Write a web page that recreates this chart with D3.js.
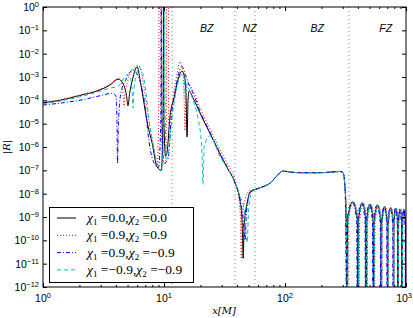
<!DOCTYPE html>
<html><head><meta charset="utf-8">
<script src="https://cdn.jsdelivr.net/npm/d3@7"></script>
<style>body{margin:0;background:#fff}</style>
</head><body><svg id="c" width="413" height="318"></svg>
<script>
// ---------- data ----------
const seriesLabels = [
  ["0.0", "0.0"], ["0.9", "0.9"], ["0.9", "\u22120.9"], ["\u22120.9", "\u22120.9"]
];
const zoneLineX = [11.7, 38.6, 56.5, 338];
const zoneLabels = ["BZ", "NZ", "BZ", "FZ"];
const zoneLabelX = [22.5, 51, 185, 680];
const xTickExp = [0, 1, 2, 3];
const yTickExp = [0, -1, -2, -3, -4, -5, -6, -7, -8, -9, -10, -11, -12];

const plateau = [[58.7, 1.6e-8], [65.8, 2e-8], [75.1, 2.8e-8], [85.8, 5.8e-8], [96.3, 9.3e-8],
  [110, 8.5e-8], [133, 7.9e-8], [195, 7.9e-8], [286, 8.9e-8], [302, 7.9e-8], [313, 2e-8]];

const blackData = [[1, 7.9e-5], [1.38, 1.0e-4], [2.0, 1.6e-4], [2.96, 2.8e-4], [3.58, 4.5e-4], [4.17, 8.1e-4],
  [4.6, 5.0e-4], [4.9, 1.6e-4], [5.04, 5.8e-5], [5.2, 2.0e-4], [5.5, 8.0e-4], [6.0, 2.75e-3], [6.33, 7.9e-4],
  [6.7, 1.4e-4], [7.37, 7.9e-6], [7.95, 1.6e-6], [8.76, 1.4e-7], [9.5, 1.0e-7], [9.8, 1e-5], [9.87, 1e-2],
  [9.9, 5], [9.93, 1e-2], [10.0, 1e-5], [10.3, 4e-7], [10.6, 6e-7], [11.2, 2e-5], [12.1, 1.26e-4],
  [12.8, 5e-4], [14.1, 1.8e-3], [14.8, 1.0e-3], [15.2, 1.6e-4], [15.5, 2.7e-6], [15.8, 1.0e-4],
  [16.1, 2.5e-4], [17.4, 1.26e-4], [19.8, 2.9e-5], [23.9, 4e-6], [29.0, 5e-7], [33.3, 1.26e-7],
  [38.6, 2.9e-8], [42.4, 5.4e-9], [44.3, 5e-10], [45.1, 1.7e-11], [46, 5e-10], [48.7, 4e-9], [51.5, 1.2e-8]];
const blackFZ = [[320, 1e-9], [325, 1e-13],
  [329.6, 7.9e-10], [363, 4.4e-9], [396.4, 7.9e-10], [401, 1e-13],
  [405, 7.1e-10], [435.5, 4e-9], [466, 7.1e-10], [470, 1e-13],
  [474, 6.3e-10], [505, 3.5e-9], [536, 6.3e-10], [540, 1e-13],
  [545, 5.6e-10], [582.5, 3.2e-9], [620, 5.6e-10], [625, 1e-13],
  [630, 5e-10], [665, 2.8e-9], [700, 5e-10], [705, 1e-13],
  [710, 4.5e-10], [747.5, 2.5e-9], [785, 4.5e-10], [790, 1e-13],
  [794, 4.3e-10], [825, 2.4e-9], [856, 4.3e-10], [860, 1e-13],
  [864, 4e-10], [895, 2.2e-9], [926, 4e-10], [930, 1e-13],
  [934, 3.8e-10], [962, 2.1e-9], [991, 3.8e-10], [995, 1e-13], [1000, 3e-10]];

const redData = [[1, 8.5e-5], [1.38, 1.05e-4], [2.0, 1.7e-4], [2.96, 3.0e-4], [3.58, 5.0e-4], [4.3, 9.0e-4],
  [4.5, 5.0e-4], [4.6, 1.6e-4], [4.67, 5e-5], [4.75, 1.6e-4], [5.0, 6.3e-4], [5.5, 2e-3], [6.1, 3.2e-3],
  [6.5, 1.6e-3], [6.9, 2.5e-4], [7.5, 1.3e-5], [8.2, 1e-6], [8.8, 1.6e-7], [9.02, 1e-5], [9.08, 1e-2],
  [9.1, 5], [9.42, 5], [9.44, 1e-2], [9.5, 1e-5], [9.8, 2e-7], [10.3, 2e-7], [10.44, 1e-5], [10.48, 1e-2],
  [10.5, 5], [10.85, 5], [10.87, 1e-2], [10.95, 1e-5], [11.3, 2e-5], [12.0, 2e-4], [12.8, 1.3e-3],
  [13.5, 4.5e-3], [14.2, 2e-3], [14.6, 2.5e-4], [14.9, 5e-6], [15.2, 2.5e-4], [15.9, 5e-4], [17.4, 2.5e-4],
  [19.8, 5e-5], [23.9, 6.3e-6], [29.0, 7.9e-7], [33.3, 2e-7], [38.6, 4e-8], [41, 1e-8], [42.8, 1e-9],
  [43.6, 1.6e-11], [44.4, 1e-9], [46.5, 5e-9], [51.5, 1.4e-8]];
const redFZ = [[322, 1e-9], [330, 1e-13],
  [335, 7.9e-10], [370, 4.4e-9], [405, 7.9e-10], [410, 1e-13],
  [414, 7.1e-10], [444, 4e-9], [474, 7.1e-10], [478, 1e-13],
  [482, 6.3e-10], [514, 3.5e-9], [546, 6.3e-10], [550, 1e-13],
  [555, 5.6e-10], [591, 3.2e-9], [627, 5.6e-10], [632, 1e-13],
  [637, 5e-10], [673, 2.8e-9], [709, 5e-10], [714, 1e-13],
  [719, 4.5e-10], [755, 2.5e-9], [791, 4.5e-10], [796, 1e-13],
  [800, 4.3e-10], [832, 2.4e-9], [864, 4.3e-10], [868, 1e-13],
  [872, 4e-10], [903, 2.2e-9], [934, 4e-10], [938, 1e-13],
  [942, 3.8e-10], [975, 2.1e-9], [1000, 1.2e-9]];

const blueData = [[1, 6.3e-5], [1.5, 8e-5], [2.2, 1.1e-4], [3.0, 1.6e-4], [3.7, 2e-4], [4.0, 1.6e-4],
  [4.08, 2e-5], [4.13, 2e-7], [4.2, 1e-5], [4.4, 2e-4], [4.8, 7e-4], [5.53, 2e-3], [6.0, 1.3e-3],
  [6.5, 4e-4], [7.0, 5e-5], [7.37, 4e-6], [7.7, 7.9e-7], [8.3, 2e-7], [9.0, 1.3e-7], [9.4, 1e-5],
  [9.47, 1e-2], [9.5, 5], [9.53, 1e-2], [9.6, 1e-5], [10.0, 2e-7], [10.8, 3e-7], [11.5, 2e-5],
  [12.3, 2e-4], [13.0, 1e-3], [14.1, 2.8e-3], [15.0, 1.3e-3], [16, 5e-4], [17.4, 2e-4], [19.8, 3.5e-5],
  [23.9, 4.5e-6], [29, 5.5e-7], [33.3, 1.4e-7], [38.6, 3e-8], [42.4, 6e-9], [45, 1e-9], [46.8, 1e-10],
  [48, 1.5e-9], [51.5, 1.1e-8]];
const blueFZ = [[317, 1e-9], [322, 1e-13],
  [326, 7.9e-10], [358, 4.4e-9], [391, 7.9e-10], [395, 1e-13],
  [399, 7.1e-10], [428, 4e-9], [458, 7.1e-10], [462, 1e-13],
  [466, 6.3e-10], [497, 3.5e-9], [528, 6.3e-10], [532, 1e-13],
  [537, 5.6e-10], [575, 3.2e-9], [613, 5.6e-10], [618, 1e-13],
  [623, 5e-10], [658, 2.8e-9], [693, 5e-10], [698, 1e-13],
  [703, 4.5e-10], [740, 2.5e-9], [777, 4.5e-10], [782, 1e-13],
  [786, 4.3e-10], [817, 2.4e-9], [848, 4.3e-10], [852, 1e-13],
  [856, 4e-10], [887, 2.2e-9], [918, 4e-10], [922, 1e-13],
  [926, 3.8e-10], [955, 2.1e-9], [984, 3.8e-10], [988, 1e-13], [1000, 7e-10]];

const cyanData = [[1, 7e-5], [2.0, 1.4e-4], [3.0, 2.5e-4], [3.7, 3.5e-4], [4.1, 3.7e-4], [4.6, 8e-4],
  [4.9, 1.26e-3], [5.2, 1.1e-3], [5.45, 3e-4], [5.55, 4.7e-5], [5.65, 3e-4], [6.0, 1.6e-3], [6.3, 2.5e-3],
  [6.7, 1.3e-3], [7.1, 2e-4], [7.6, 1e-5], [8.2, 1e-6], [8.8, 2e-7], [9.6, 1e-7], [9.95, 1e-5],
  [10.02, 1e-2], [10.05, 5], [10.14, 5], [10.17, 1e-2], [10.25, 1e-5], [10.5, 3e-7], [11.0, 1e-6],
  [11.8, 3e-5], [12.7, 3e-4], [13.5, 1e-3], [14.4, 1.4e-3], [14.8, 5e-4], [15.0, 1.26e-4], [15.3, 5e-4],
  [16.0, 3.2e-4], [17.4, 1e-4], [19.0, 2e-5], [20.5, 1e-6], [21.0, 2.5e-8], [21.5, 1e-6], [23.9, 3e-6],
  [29, 4e-7], [33.3, 1.2e-7], [38.6, 3.2e-8], [42.4, 8e-9], [46, 2e-9], [48.7, 8e-11], [50, 2e-9],
  [53, 1.1e-8]];
const cyanFZ = [[321, 1e-9], [328, 1e-13],
  [333, 7.9e-10], [366, 4.4e-9], [400, 7.9e-10], [405, 1e-13],
  [409, 7.1e-10], [440, 4e-9], [471, 7.1e-10], [475, 1e-13],
  [479, 6.3e-10], [510, 3.5e-9], [542, 6.3e-10], [546, 1e-13],
  [551, 5.6e-10], [588, 3.2e-9], [625, 5.6e-10], [630, 1e-13],
  [635, 5e-10], [670, 2.8e-9], [705, 5e-10], [710, 1e-13],
  [715, 4.5e-10], [751, 2.5e-9], [788, 4.5e-10], [793, 1e-13],
  [797, 4.3e-10], [828, 2.4e-9], [860, 4.3e-10], [864, 1e-13],
  [868, 4e-10], [899, 2.2e-9], [931, 4e-10], [935, 1e-13],
  [939, 3.8e-10], [970, 2.1e-9], [1000, 1.5e-9]];

// ---------- drawing ----------
const L = 43, R = 406, T = 7, B = 287;
const svg = d3.select("#c");
const x = d3.scaleLog().domain([1, 1000]).range([L, R]);
const y = d3.scaleLog().domain([1e-12, 1]).range([B, T]);

svg.append("defs").append("clipPath").attr("id", "clip")
  .append("rect").attr("x", L).attr("y", T).attr("width", R - L).attr("height", B - T);

const plot = svg.append("g").attr("clip-path", "url(#clip)");

// zone lines
plot.selectAll(".zl").data(zoneLineX).enter().append("line")
  .attr("x1", d => x(d)).attr("x2", d => x(d)).attr("y1", T).attr("y2", B)
  .attr("stroke", "#5f8f5f").attr("stroke-width", 1).attr("stroke-dasharray", "1,3").attr("opacity", 0.85);

const series = [
  {d: blackData.concat(plateau, blackFZ), color: "#000000", dash: null, w: 1},
  {d: redData.concat(plateau, redFZ), color: "#ff0000", dash: "1,2", w: 1},
  {d: blueData.concat(plateau, blueFZ), color: "#0000ff", dash: "4,2,1,2", w: 1},
  {d: cyanData.concat(plateau, cyanFZ), color: "#00bfbf", dash: "4,3", w: 1}
];
const line = d3.line().x(d => x(d[0])).y(d => y(d[1])).curve(d3.curveMonotoneX);
series.forEach(s => {
  plot.append("path").attr("d", line(s.d)).attr("fill", "none")
    .attr("stroke", s.color).attr("stroke-width", s.w)
    .attr("stroke-dasharray", s.dash);
});

// zone labels
svg.selectAll(".zt").data(zoneLabels).enter().append("text")
  .attr("x", (d, i) => x(zoneLabelX[i])).attr("y", 32)
  .attr("text-anchor", "middle").attr("font-family", "Liberation Sans").attr("font-style", "italic")
  .attr("font-size", 10.5).text(d => d);

// frame
svg.append("rect").attr("x", L).attr("y", T).attr("width", R - L).attr("height", B - T)
  .attr("fill", "none").attr("stroke", "#000").attr("stroke-width", 1);

const majorX = xTickExp.map(e => Math.pow(10, e));
const minorX = [];
[1, 10, 100].forEach(b => { for (let k = 2; k <= 9; k++) minorX.push(b * k); });
const majorY = yTickExp.map(e => Math.pow(10, e));

function axis(gen, vals, size, tr) {
  const g = svg.append("g").attr("transform", tr)
    .call(gen.tickValues(vals).tickSize(size).tickFormat(""));
  g.select(".domain").remove();
  g.selectAll("line").attr("stroke", "#000");
}
axis(d3.axisBottom(x), majorX, -4, `translate(0,${B})`);
axis(d3.axisBottom(x), minorX, -2, `translate(0,${B})`);
axis(d3.axisTop(x), majorX, -4, `translate(0,${T})`);
axis(d3.axisTop(x), minorX, -2, `translate(0,${T})`);
axis(d3.axisLeft(y), majorY, -4, `translate(${L},0)`);
axis(d3.axisRight(y), majorY, -4, `translate(${R},0)`);

// tick labels
const xl = svg.selectAll(".xl").data(xTickExp).enter().append("text")
  .attr("y", 302).attr("text-anchor", "middle")
  .attr("font-family", "Liberation Sans").attr("font-size", 10.5);
xl.append("tspan").text("10");
xl.append("tspan").attr("dy", -4).attr("font-size", 7.5).text(d => String(d).replace("-", "\u2212"));
xl.attr("x", function(d) {
  const w = this.getComputedTextLength();
  return Math.min(x(Math.pow(10, d)), 412 - w / 2);
});

const yl = svg.selectAll(".yl").data(yTickExp).enter().append("text")
  .attr("x", 39).attr("y", d => y(Math.pow(10, d)) + 4).attr("text-anchor", "end")
  .attr("font-family", "Liberation Sans").attr("font-size", 10.5);
yl.append("tspan").text("10");
yl.append("tspan").attr("dy", -4).attr("font-size", 7.5).text(d => String(d).replace("-", "\u2212"));

// axis titles
svg.append("text").attr("x", 224).attr("y", 314).attr("text-anchor", "middle")
  .attr("font-family", "DejaVu Serif").attr("font-size", 10).attr("font-style", "italic").text("x[M]");
svg.append("text").attr("transform", "translate(10,147) rotate(-90)").attr("text-anchor", "middle")
  .attr("font-family", "DejaVu Serif").attr("font-size", 10).attr("font-style", "italic").text("|R|");

// legend
const lg = svg.append("g");
lg.append("rect").attr("x", 49.5).attr("y", 207.5).attr("width", 144).attr("height", 75)
  .attr("fill", "#fff").attr("stroke", "#000").attr("stroke-width", 1);
series.forEach((s, i) => {
  const yy = 218 + i * 17.3;
  lg.append("line").attr("x1", 57).attr("x2", 76).attr("y1", yy).attr("y2", yy)
    .attr("stroke", s.color).attr("stroke-width", s.w).attr("stroke-dasharray", s.dash);
  const t = lg.append("text").attr("x", 87).attr("y", yy + 4)
    .attr("font-family", "Liberation Serif").attr("font-size", 13.5);
  t.append("tspan").attr("font-style", "italic").text("\u03c7");
  t.append("tspan").attr("font-size", 9).attr("dy", 3).text("1");
  t.append("tspan").attr("dy", -3).text(" =" + seriesLabels[i][0] + ",");
  t.append("tspan").attr("font-style", "italic").text("\u03c7");
  t.append("tspan").attr("font-size", 9).attr("dy", 3).text("2");
  t.append("tspan").attr("dy", -3).text(" =" + seriesLabels[i][1]);
});
</script></body></html>
